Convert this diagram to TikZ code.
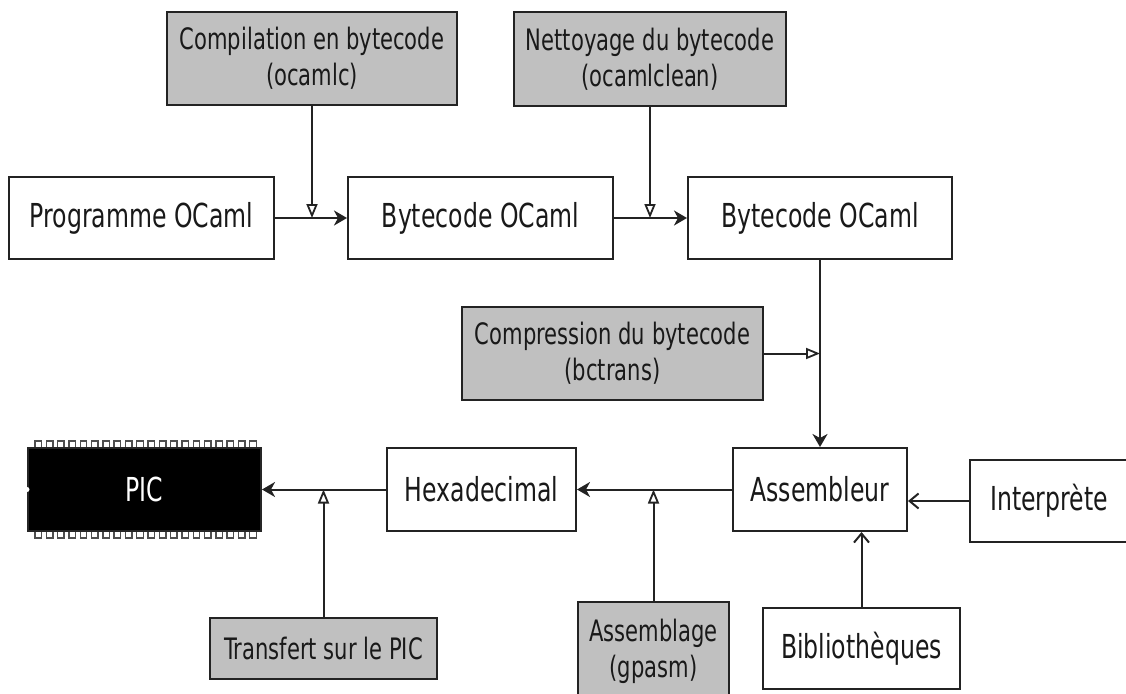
\documentclass[tikz,border=0pt]{standalone}
\usepackage{fontspec}
\setmainfont{DejaVu Sans}[FakeStretch=0.715]
\usetikzlibrary{arrows.meta}
\definecolor{boxgray}{RGB}{192,192,192}
\definecolor{ink}{RGB}{35,35,35}
\tikzset{
  box/.style={draw=ink, line width=2pt, fill=white, rectangle, inner sep=0pt,
    align=center, font=\fontsize{33}{36}\selectfont, text=black!90},
  tool/.style={box, fill=boxgray, font=\fontsize{29.5}{36}\selectfont},
  flow/.style={draw=ink, line width=2pt, -{Stealth[length=13pt,width=15pt,inset=4pt]}},
  merge/.style={draw=ink, line width=2pt, -{Triangle[open,length=14pt,width=11pt,line width=1.8pt]}},
  feed/.style={draw=ink, line width=2pt, -{Straight Barb[length=9pt,width=15pt,line width=2pt]}},
  pin/.style={draw=ink!80, line width=1.4pt, fill=white},
}
\begin{document}
\begin{tikzpicture}[x=1pt,y=-1pt]
\useasboundingbox (0,0) rectangle (1126,693);
\clip (0,0) rectangle (1126,693);

% tool boxes (grey)
\node[tool, minimum width=290pt, minimum height=93pt] (comp) at (312,58.5) {Compilation en bytecode\\(ocamlc)};
\node[tool, minimum width=272pt, minimum height=94pt] (nett) at (650,59) {Nettoyage du bytecode\\(ocamlclean)};
\node[tool, minimum width=301pt, minimum height=93pt] (compr) at (612.5,353.5) {Compression du bytecode\\(bctrans)};
\node[tool, minimum width=151pt, minimum height=98pt] (asmb) at (653.5,651) {Assemblage\\(gpasm)};
\node[tool, minimum width=227pt, minimum height=61pt] (trans) at (323.5,648.5) {Transfert sur le PIC};

% data boxes (white)
\node[box, minimum width=265pt, minimum height=82pt] (prog) at (141.5,218) {Programme OCaml};
\node[box, minimum width=265pt, minimum height=82pt] (bc1) at (480.5,218) {Bytecode OCaml};
\node[box, minimum width=264pt, minimum height=82pt] (bc2) at (820,218) {Bytecode OCaml};
\node[box, minimum width=174pt, minimum height=83pt] (asm) at (820,489.5) {Assembleur};
\node[box, minimum width=158pt, minimum height=82pt] (interp) at (1049,501) {Interprète};
\node[box, minimum width=197pt, minimum height=81pt] (bib) at (861.5,648.5) {Bibliothèques};
\node[box, minimum width=189pt, minimum height=83pt] (hex) at (481.5,489.5) {Hexadecimal};

% the PIC chip: black body with pins
\foreach \i in {0,...,19} {
  \draw[pin] (35+\i*11.3,441) rectangle ++(6.5,7);
  \draw[pin] (35+\i*11.3,531) rectangle ++(6.5,7);
}
\node[box, draw=black!85, fill=black, text=white, minimum width=233pt, minimum height=83pt] (pic) at (144.5,489.5) {PIC};
\fill[white] (pic.west) ++(0,-2.5) arc[start angle=90, end angle=-90, radius=2.5pt] -- cycle;

% main chain
\draw[flow] (prog.east) -- (bc1.west);
\draw[flow] (bc1.east) -- (bc2.west);
\draw[flow] (bc2.south) -- (asm.north);
\draw[flow] (asm.west) -- (hex.east);
\draw[flow] (hex.west) -- (pic.east);

% tools acting on the chain
\draw[merge] (comp.south) -- (comp.south |- prog.east);
\draw[merge] (nett.south) -- (nett.south |- bc1.east);
\draw[merge] (compr.east) -- (compr.east -| bc2.south);
\draw[merge] (asmb.north) -- (asmb.north |- asm.west);
\draw[merge] (trans.north) -- (trans.north |- hex.west);

% extra inputs of the assembler
\draw[feed] (interp.west) -- (interp.west -| asm.east);
\draw[feed] (bib.north) -- (bib.north |- asm.south);
\end{tikzpicture}
\end{document}
